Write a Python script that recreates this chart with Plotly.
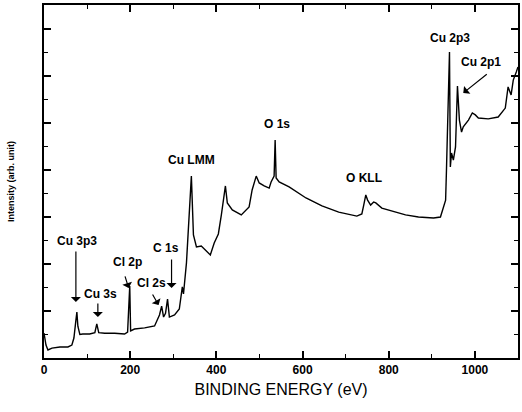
import plotly.graph_objects as go

# Binding energy (eV) and intensity (arb. unit)
energy = [0, 4.6, 9.2, 18.5, 37, 55.5, 64.7, 69.4, 74, 76.3, 78.6, 83.2, 90, 106, 118, 122.5, 127,
          141, 164, 187, 194, 199, 201, 210, 233.5, 256.6, 268, 273, 277.5, 282, 286.7, 291, 303,
          314, 321, 323.7, 330.6, 337.6, 342, 346.8, 353.8, 365, 374.6, 386, 395, 404.6, 411.6,
          416, 421, 425.4, 437, 457.8, 476, 483, 492.5, 499.4, 511, 522.5, 527, 534, 536.4, 538.7,
          545.7, 568.8, 608, 645, 684, 726, 737.6, 742, 746.8, 751, 758, 765, 770, 784, 800, 839,
          869, 904, 920, 927, 932, 934, 936, 941, 943, 945.7, 950, 955, 959.5, 964, 969, 973, 985,
          994, 1001, 1008, 1031, 1054, 1070.5, 1077, 1084, 1089, 1096, 1100]
intensity = [1.06, 0.55, 0.34, 0.42, 0.47, 0.47, 0.55, 0.85, 1.6, 1.95, 1.35, 1.0, 1.02, 1.02, 1.08, 1.45, 1.08,
             1.05, 1.05, 1.02, 1.1, 3.06, 1.15, 1.23, 1.28, 1.36, 1.83, 2.2, 1.74, 1.9, 2.5, 1.74, 1.83,
             2.08, 3.02, 2.72, 4.04, 6.16, 7.73, 5.23, 4.72, 4.76, 4.59, 4.38, 4.89, 5.27, 6.08,
             6.71, 7.31, 6.59, 6.29, 6.08, 6.42, 7.14, 7.73, 7.44, 7.31, 7.22, 7.48, 7.73, 9.26, 7.65,
             7.48, 7.27, 6.80, 6.46, 6.20, 6.03, 6.12, 6.50, 6.93, 6.71, 6.50, 6.63, 6.59, 6.37, 6.29, 6.08,
             5.99, 5.95, 5.99, 6.42, 6.71, 7.99, 9.14, 13.0, 8.12, 8.71, 8.41, 8.97, 11.56, 10.11, 9.60, 9.82, 10.11,
             10.41, 10.33, 10.20, 10.16, 10.24, 10.62, 11.52, 11.18, 11.81, 12.15, 12.37]

# Peak labels
label_text = ["Cu 3p3", "Cu 3s", "Cl 2p", "Cl 2s", "C 1s", "Cu LMM", "O 1s", "O KLL", "Cu 2p3", "Cu 2p1"]
label_x = [76, 132, 194, 250, 284, 342, 541, 742, 943, 1015]
label_y = [4.97, 2.72, 4.08, 3.19, 4.67, 8.41, 9.94, 7.65, 13.6, 12.58]

# Arrows: tail -> head
arrow_tail_x = [74, 125, 187, 250, 296, 1031]
arrow_tail_y = [4.59, 2.38, 3.53, 2.76, 4.25, 12.11]
arrow_head_x = [74, 125, 196.5, 266, 296, 973]
arrow_head_y = [2.38, 1.74, 2.97, 2.25, 2.97, 11.26]

fig = go.Figure()
fig.add_trace(go.Scatter(x=energy, y=intensity, mode="lines",
                         line=dict(color="black", width=1.4), showlegend=False, hoverinfo="skip"))

font_lbl = dict(family="Liberation Sans, Arial, sans-serif", size=12, color="black", weight="bold")
for t, x, y in zip(label_text, label_x, label_y):
    fig.add_annotation(x=x, y=y, text=t, showarrow=False, font=font_lbl, xanchor="center", yanchor="middle")

for tx, ty, hx, hy in zip(arrow_tail_x, arrow_tail_y, arrow_head_x, arrow_head_y):
    fig.add_annotation(x=hx, y=hy, ax=tx, ay=ty, axref="x", ayref="y", xref="x", yref="y",
                       text="", showarrow=True, arrowhead=1, arrowsize=1.4, arrowwidth=1.2,
                       arrowcolor="black", standoff=0, startstandoff=0)

fig.update_layout(
    width=522, height=412,
    margin=dict(l=44, r=2, t=5, b=54),
    plot_bgcolor="white", paper_bgcolor="white",
    font=dict(family="Liberation Sans, Arial, sans-serif", color="black"),
)
fig.update_xaxes(
    range=[0, 1100], showgrid=False, zeroline=False,
    showline=True, linecolor="black", linewidth=2, mirror="ticks",
    ticks="inside", ticklen=7, tickwidth=1.5, tickcolor="black", dtick=200, tick0=0,
    minor=dict(ticks="inside", ticklen=4, dtick=100, tickcolor="black", tickwidth=1.2),
    tickfont=dict(size=12, weight="bold", family="Liberation Sans, Arial, sans-serif"),
    title=dict(text="BINDING ENERGY (eV)", font=dict(size=16), standoff=7),
)
fig.update_yaxes(
    range=[0, 15], showgrid=False, zeroline=False,
    showline=True, linecolor="black", linewidth=2, mirror="ticks",
    ticks="inside", ticklen=7, tickwidth=1.5, tickcolor="black", dtick=2, tick0=0,
    minor=dict(ticks="inside", ticklen=4, dtick=1, tickcolor="black", tickwidth=1.2),
    showticklabels=False,
    title=dict(text="Intensity (arb. unit)", font=dict(size=9, weight="bold"), standoff=26),
)

fig.write_html("out.html")
